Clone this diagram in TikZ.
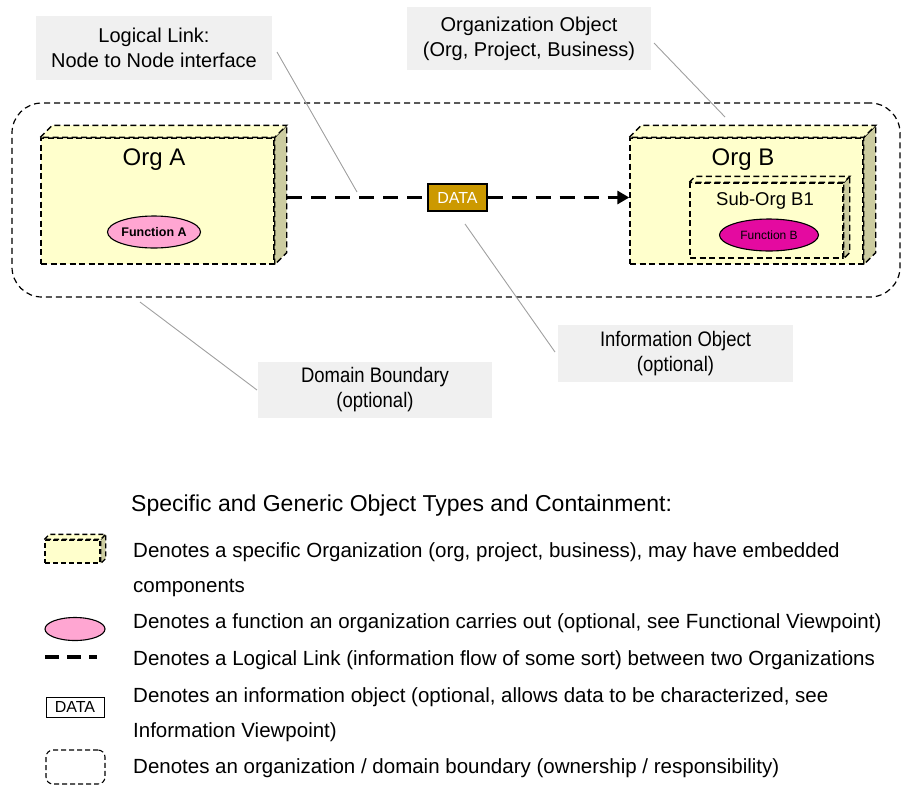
\documentclass[tikz,border=0pt]{standalone}
\usepackage{fontspec}
\setmainfont{Liberation Sans}
\newfontfamily\narrowsf[FakeStretch=0.88]{Liberation Sans}
\usetikzlibrary{arrows.meta,calc,shapes.geometric}

\definecolor{orgfront}{RGB}{255,255,204}
\definecolor{orgside}{RGB}{204,204,160}
\definecolor{notegray}{RGB}{240,240,240}
\definecolor{funcpink}{RGB}{255,166,210}
\definecolor{funcmag}{RGB}{228,10,160}
\definecolor{datagold}{RGB}{204,153,0}
\definecolor{leadgray}{RGB}{160,160,160}

\newcommand{\fsz}[2]{\fontsize{#1}{#2}\selectfont}

% top and side faces of an org box
\newcommand{\cubefaces}[3]{%
  \filldraw[#3, fill=orgside] (#1.north east) -- ++(#2,-#2)
    -- ($(#1.south east)+(#2,-#2)$) -- (#1.south east) -- cycle;
  \filldraw[#3, fill=orgfront] (#1.north west) -- ++(#2,-#2)
    -- ($(#1.north east)+(#2,-#2)$) -- (#1.north east) -- cycle;
}

\begin{document}
\begin{tikzpicture}[
  x=1pt, y=-1pt,
  orgbox/.style={draw, fill=orgfront, dash pattern=on 6pt off 3.5pt, line width=1.4pt, inner sep=0pt},
  cubeline/.style={dash pattern=on 6pt off 3.5pt, line width=1.4pt},
  orgname/.style={font=\fsz{24}{28}},
  note/.style={fill=notegray, align=center, inner sep=0pt, font=\fsz{20}{25}},
  narrownote/.style={note, font=\narrowsf\fsz{21}{25}},
  leader/.style={draw=leadgray, line width=0.9pt},
  func/.style={ellipse, draw, line width=1.1pt, inner sep=0pt},
  link/.style={line width=3.5pt, dash pattern=on 15pt off 9pt},
  legtext/.style={anchor=west, inner sep=0pt, font=\fsz{20.5}{24}},
]
\useasboundingbox (0,0) rectangle (904,785);

% domain boundary
\node[draw, dash pattern=on 6pt off 4pt, line width=1.2pt, rounded corners=30pt,
  minimum width=888pt, minimum height=194pt] (domain) at (456,200) {};

% Org A
\node[orgbox, minimum width=233pt, minimum height=126pt] (orgA) at (157.5,201) {};
\cubefaces{orgA}{12}{cubeline}
\node[orgname] (orgAname) at (154,160) {Org A};
\node[func, fill=funcpink, minimum width=93pt, minimum height=32pt,
  font=\bfseries\fsz{12.5}{14}] (funcA) at (154,232) {Function A};

% Org B with Sub-Org B1
\node[orgbox, minimum width=233pt, minimum height=126pt] (orgB) at (746.5,201) {};
\cubefaces{orgB}{12}{cubeline}
\node[orgname] (orgBname) at (743,160) {Org B};
\node[orgbox, minimum width=153pt, minimum height=75pt] (subB) at (766.5,220.5) {};
\cubefaces{subB}{6}{cubeline}
\node[font=\fsz{18.5}{22}] (subBname) at (765,201) {Sub-Org B1};
\node[func, fill=funcmag, minimum width=99pt, minimum height=32pt,
  font=\fsz{12}{14}] (funcB) at (769,235) {Function B};

% logical link with data object
\node[draw, line width=1.2pt, fill=datagold, text=white, inner sep=0pt,
  minimum width=59pt, minimum height=27pt, font=\fsz{16}{18}] (data) at (457.5,197.5) {DATA};
\coordinate (linkA) at (287,197.5);
\draw[link] (linkA) -- (data.west);
\draw[link, -{Triangle[length=12pt,width=13pt]}] (data.east) -- (data.east -| orgB.west);

% callouts
\node[note, minimum width=236pt, minimum height=64pt] (linknote) at (154,48)
  {Logical Link:\\Node to Node interface};
\node[note, minimum width=244pt, minimum height=63pt] (orgnote) at (529,38.5)
  {Organization Object\\(Org, Project, Business)};
\node[narrownote, minimum width=235pt, minimum height=57pt] (infonote) at (675.5,353.5)
  {Information Object\\(optional)};
\node[narrownote, minimum width=234pt, minimum height=56pt] (domainnote) at (375,390)
  {Domain Boundary\\(optional)};

\coordinate (linkleadA) at (277,52);   \coordinate (linkleadB) at (357,192);
\coordinate (orgleadA) at (654,43);    \coordinate (orgleadB) at (725,117);
\coordinate (infoleadA) at (465,224);  \coordinate (infoleadB) at (555,352);
\coordinate (domleadA) at (140,302);   \coordinate (domleadB) at (257,390);
\draw[leader] (linkleadA) -- (linkleadB);
\draw[leader] (orgleadA) -- (orgleadB);
\draw[leader] (infoleadA) -- (infoleadB);
\draw[leader] (domleadA) -- (domleadB);

% legend
\node[anchor=west, inner sep=0pt, font=\fsz{23}{27}] (legtitle) at (131,506)
  {Specific and Generic Object Types and Containment:};

\node[draw, fill=orgfront, dash pattern=on 5pt off 3pt, line width=1.3pt, inner sep=0pt,
  minimum width=55pt, minimum height=23pt] (legorg) at (72.5,551.5) {};
\cubefaces{legorg}{5}{dash pattern=on 5pt off 3pt, line width=1.3pt}
\node[legtext] (legorgtxt) at (133,552)
  {Denotes a specific Organization (org, project, business), may have embedded};
\node[legtext] (legorgtxt2) at (133,588) {components};

\node[func, fill=funcpink, minimum width=60pt, minimum height=23pt] (legfunc) at (75,629) {};
\node[legtext] (legfunctxt) at (133,623)
  {Denotes a function an organization carries out (optional, see Functional Viewpoint)};

\coordinate (legdashA) at (45,657);
\coordinate (legdashB) at (97,657);
\draw[line width=3.5pt, dash pattern=on 14pt off 8pt] (legdashA) -- (legdashB);
\node[legtext] (leglinktxt) at (133,660)
  {Denotes a Logical Link (information flow of some sort) between two Organizations};

\node[draw, line width=1pt, inner sep=0pt, minimum width=58pt, minimum height=20pt,
  font=\fsz{16}{18}] (legdata) at (75,707) {DATA};
\node[legtext] (legdatatxt) at (133,697)
  {Denotes an information object (optional, allows data to be characterized, see};
\node[legtext] (legdatatxt2) at (133,732) {Information Viewpoint)};

\node[draw, dash pattern=on 5pt off 3pt, line width=1.1pt, rounded corners=7pt,
  minimum width=59pt, minimum height=34pt] (legdomain) at (75.5,767) {};
\node[legtext] (legdomaintxt) at (133,768)
  {Denotes an organization / domain boundary (ownership / responsibility)};
\end{tikzpicture}
\end{document}
